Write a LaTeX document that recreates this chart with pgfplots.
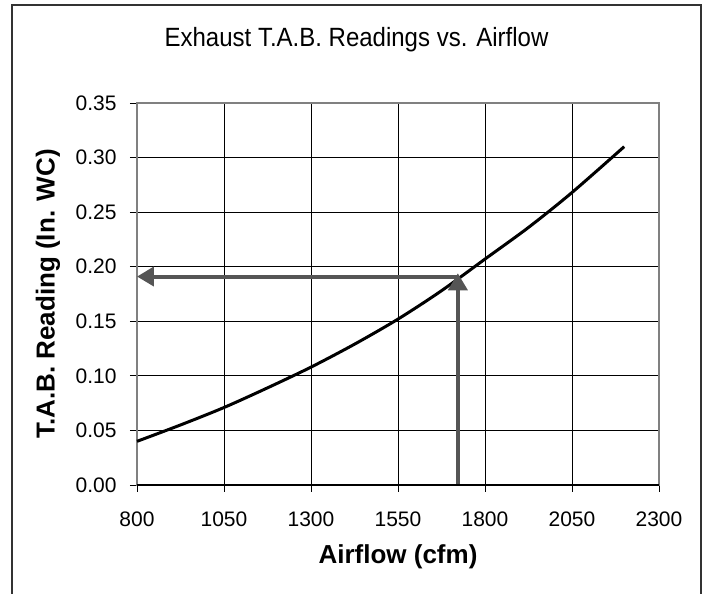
\documentclass[border=0pt]{standalone}
\usepackage{fontspec}
\setmainfont{Liberation Sans}
\usepackage{pgfplots}
\pgfplotsset{compat=1.18}
\usetikzlibrary{arrows.meta}
\definecolor{arrowgray}{RGB}{85,85,85}
\definecolor{boxgray}{RGB}{128,128,128}
\begin{document}
\begin{tikzpicture}[x=1pt,y=1pt]
\useasboundingbox (0,0) rectangle (705,594);
\draw[line width=1.5pt, black!80] (12,-20) -- (12,589) -- (701,589) -- (701,-20);
\node[font=\fontsize{24}{28}\selectfont, anchor=base, yscale=1.1] at (356.5,547) {Exhaust T.A.B. Readings vs. Airflow};
\begin{axis}[
  at={(137pt,109pt)}, anchor=south west,
  scale only axis, width=522pt, height=382pt,
  xmin=800, xmax=2300, ymin=0, ymax=0.35,
  xtick={800,1050,1300,1550,1800,2050,2300},
  ytick={0,0.05,0.10,0.15,0.20,0.25,0.30,0.35},
  grid=major, grid style={black, line width=0.8pt},
  axis line style={boxgray, line width=1.2pt},
  tick align=outside, xtick pos=bottom, ytick pos=left,
  major tick length=7pt, tick style={black, line width=0.8pt},
  /pgf/number format/assume math mode=true,
  ticklabel style={font=\fontsize{21}{24}\selectfont},
  yticklabel style={xshift=-10pt, /pgf/number format/.cd, fixed, fixed zerofill, precision=2},
  xticklabel style={yshift=-16pt, /pgf/number format/set thousands separator={}},
  xlabel={Airflow (cfm)}, ylabel={T.A.B. Reading (In. WC)},
  label style={font=\bfseries\fontsize{26}{30}\selectfont},
  xlabel style={at={(axis description cs:0.5,-0.1885)}, anchor=center},
  ylabel style={at={(axis description cs:-0.1705,0.5)}, anchor=center},
  clip=false,
]
\addplot[black, line width=3pt, smooth] coordinates {
  (800,0.040) (925,0.055) (1050,0.071) (1175,0.089) (1300,0.108)
  (1425,0.129) (1550,0.152) (1675,0.178) (1800,0.207) (1925,0.236)
  (2050,0.268) (2200,0.310)
};
\addplot[arrowgray, line width=4pt, -{Triangle[width=19pt,length=17pt]}] coordinates {(1722,0.191) (800,0.191)};
\addplot[arrowgray, line width=4pt, -{Triangle[width=19pt,length=17pt]}] coordinates {(1722,0) (1722,0.194)};
\draw[black, line width=1.2pt] (rel axis cs:0,0) -- (rel axis cs:1,0);
\end{axis}
\end{tikzpicture}
\end{document}
